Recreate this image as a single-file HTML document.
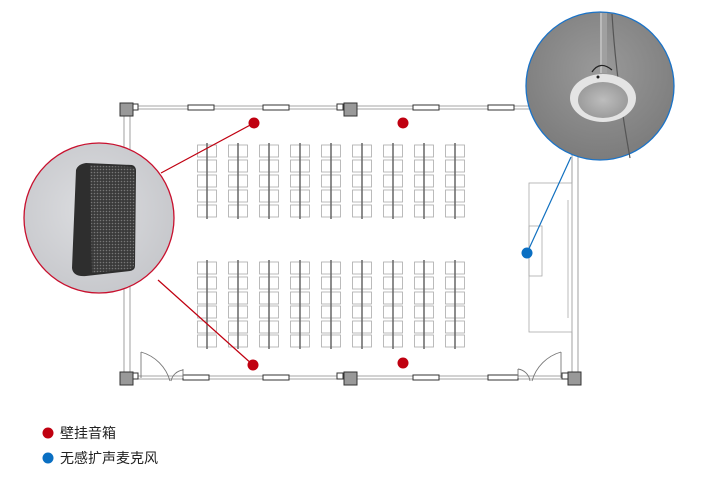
<!DOCTYPE html>
<html><head><meta charset="utf-8"><style>
html,body{margin:0;padding:0;background:#fff;width:715px;height:477px;overflow:hidden}
.t{font-family:"Liberation Sans","Noto Sans CJK SC",sans-serif;font-size:14px;fill:#222}
</style></head><body>
<svg width="715" height="477" viewBox="0 0 715 477" xmlns="http://www.w3.org/2000/svg">
<defs>
<g id="ch"><rect x="-9.5" y="0" width="9.5" height="12" fill="none" stroke="#aaa" stroke-width="0.8"/><rect x="0" y="0" width="9.5" height="12" fill="none" stroke="#aaa" stroke-width="0.8"/></g>
<g id="ct">
<use href="#ch" y="145"/><use href="#ch" y="160"/><use href="#ch" y="175"/><use href="#ch" y="190"/><use href="#ch" y="205"/>
<line x1="0" y1="143" x2="0" y2="219" stroke="#666" stroke-width="1.5"/></g>
<g id="cb">
<use href="#ch" y="262"/><use href="#ch" y="277"/><use href="#ch" y="292"/><use href="#ch" y="306"/><use href="#ch" y="321"/><use href="#ch" y="335"/>
<line x1="0" y1="260" x2="0" y2="349" stroke="#666" stroke-width="1.5"/></g>
<radialGradient id="gl" cx="0.45" cy="0.45" r="0.6"><stop offset="0" stop-color="#dcdde0"/><stop offset="1" stop-color="#c6c7cb"/></radialGradient>
<radialGradient id="gr" cx="0.5" cy="0.4" r="0.6"><stop offset="0" stop-color="#9a9a9a"/><stop offset="1" stop-color="#7c7c7c"/></radialGradient>
<radialGradient id="gm" cx="0.5" cy="0.5" r="0.5"><stop offset="0" stop-color="#bdbdbd"/><stop offset="1" stop-color="#9c9c9c"/></radialGradient>
<pattern id="perf" width="3" height="3" patternUnits="userSpaceOnUse"><rect width="3" height="3" fill="#3a3a3a"/><circle cx="1.5" cy="1.5" r="0.8" fill="#777"/></pattern>
</defs>
<g stroke="#888" stroke-width="0.8" fill="none">
<line x1="127" y1="106" x2="575" y2="106"/><line x1="127" y1="109" x2="575" y2="109"/>
<line x1="127" y1="376" x2="575" y2="376"/><line x1="127" y1="379" x2="575" y2="379"/>
<line x1="124" y1="110" x2="124" y2="375"/><line x1="130" y1="110" x2="130" y2="375"/>
<line x1="572" y1="110" x2="572" y2="375"/><line x1="578" y1="110" x2="578" y2="375"/>
</g>
<g fill="#fff" stroke="#333" stroke-width="1">
<rect x="188" y="105" width="26" height="5"/><rect x="263" y="105" width="26" height="5"/>
<rect x="413" y="105" width="26" height="5"/><rect x="488" y="105" width="26" height="5"/>
<rect x="183" y="375" width="26" height="5"/><rect x="263" y="375" width="26" height="5"/>
<rect x="413" y="375" width="26" height="5"/><rect x="488" y="375" width="30" height="5"/>
<rect x="132" y="104" width="6" height="6"/><rect x="337" y="104" width="6" height="6"/>
<rect x="132" y="373" width="6" height="6"/><rect x="337" y="373" width="6" height="6"/><rect x="562" y="373" width="6" height="6"/>
</g>
<g fill="#999" stroke="#333" stroke-width="1">
<rect x="120" y="103" width="13" height="13"/><rect x="344" y="103" width="13" height="13"/>
<rect x="120" y="372" width="13" height="13"/><rect x="344" y="372" width="13" height="13"/><rect x="568" y="372" width="13" height="13"/>
</g>
<g fill="none" stroke="#777" stroke-width="0.9">
<line x1="141" y1="352" x2="141" y2="378"/><path d="M141 352 A42 42 0 0 1 170 381"/><path d="M183 370 A14 14 0 0 0 171 381"/><line x1="183" y1="369" x2="183" y2="378"/>
<line x1="561" y1="352" x2="561" y2="378"/><path d="M561 352 A42 42 0 0 0 532 381"/><path d="M518 369 A14 14 0 0 1 530 381"/><line x1="518" y1="369" x2="518" y2="378"/>
</g>
<g fill="none" stroke="#aaa" stroke-width="0.8">
<rect x="529" y="183" width="43" height="149"/><rect x="529" y="226" width="13" height="50"/><line x1="568" y1="200" x2="568" y2="318"/>
</g>
<use href="#ct" x="207"/><use href="#ct" x="238"/><use href="#ct" x="269"/><use href="#ct" x="300"/><use href="#ct" x="331"/><use href="#ct" x="362"/><use href="#ct" x="393"/><use href="#ct" x="424"/><use href="#ct" x="455"/>
<use href="#cb" x="207"/><use href="#cb" x="238"/><use href="#cb" x="269"/><use href="#cb" x="300"/><use href="#cb" x="331"/><use href="#cb" x="362"/><use href="#cb" x="393"/><use href="#cb" x="424"/><use href="#cb" x="455"/>
<line x1="254" y1="123" x2="161" y2="173" stroke="#c00010" stroke-width="1.2"/>
<line x1="253" y1="365" x2="158" y2="280" stroke="#c00010" stroke-width="1.2"/>
<line x1="527" y1="253" x2="571" y2="157" stroke="#1070c0" stroke-width="1.2"/>
<g fill="#c00010"><circle cx="254" cy="123" r="5.5"/><circle cx="403" cy="123" r="5.5"/><circle cx="253" cy="365" r="5.5"/><circle cx="403" cy="363" r="5.5"/></g>
<circle cx="527" cy="253" r="5.5" fill="#0a6fc2"/>
<circle cx="99" cy="218" r="75" fill="url(#gl)" stroke="#c8102e" stroke-width="1.3"/>
<path d="M76 170 Q78 164 86 163 L132 165 Q136 166 136 171 L135 266 Q135 270 130 271 L86 276 Q73 277 72 268 Z" fill="#2e2e2e"/>
<path d="M90 165 L132 167 Q135 168 135 172 L134 265 Q134 269 130 269 L92 273 Z" fill="url(#perf)"/>
<circle cx="600" cy="86" r="74" fill="url(#gr)" stroke="#1a73c8" stroke-width="1.3"/>
<rect x="600" y="13" width="7" height="60" fill="#a0a0a0"/>
<rect x="600" y="13" width="2" height="60" fill="#bbb"/>
<path d="M612 14 Q616 80 630 158" stroke="#555" stroke-width="1.2" fill="none"/>
<path d="M592 72 Q600 60 612 70" stroke="#222" stroke-width="1.2" fill="none"/>
<ellipse cx="603" cy="98" rx="33" ry="24" fill="#e4e4e4"/>
<ellipse cx="603" cy="100" rx="25" ry="18" fill="url(#gm)"/>
<circle cx="598" cy="77" r="1.5" fill="#222"/>
<circle cx="48" cy="433" r="5.5" fill="#c00010"/>
<text x="60" y="438" class="t">壁挂音箱</text>
<circle cx="48" cy="458" r="5.5" fill="#0a6fc2"/>
<text x="60" y="463" class="t">无感扩声麦克风</text>
</svg>
</body></html>
